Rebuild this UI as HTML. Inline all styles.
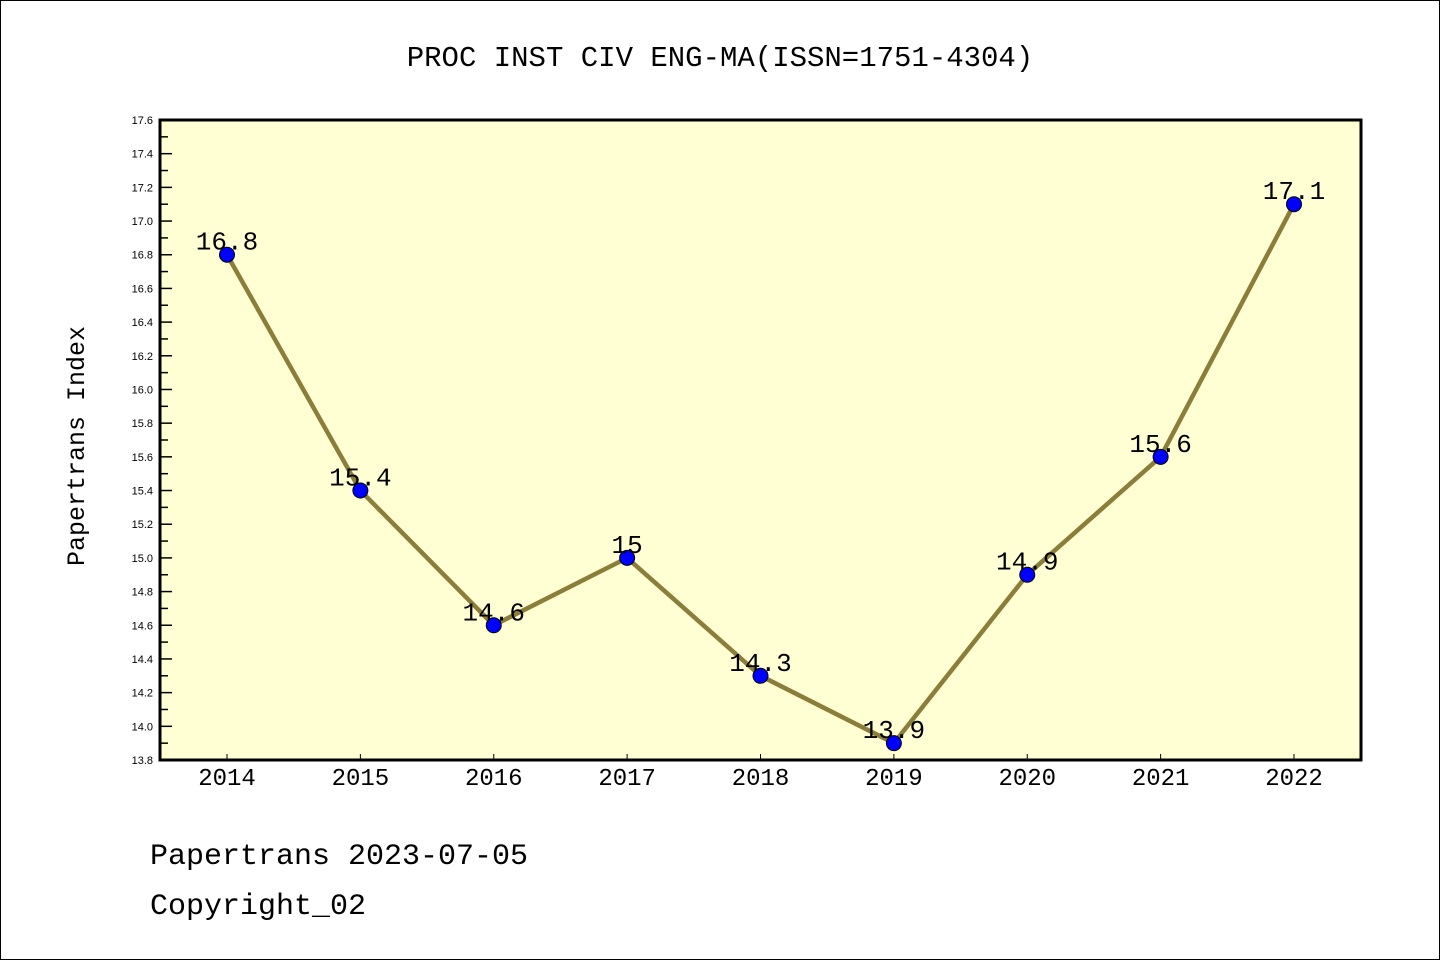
<!DOCTYPE html>
<html><head><meta charset="utf-8"><style>
html,body{margin:0;padding:0;background:#fff}
svg{display:block}
.sans{font-family:"Liberation Sans",sans-serif}
.mono{font-family:"Liberation Mono","WenQuanYi Zen Hei",monospace}
</style></head><body>
<svg id="chart" width="1440" height="960" viewBox="0 0 1440 960" xmlns="http://www.w3.org/2000/svg">
<rect x="0.5" y="0.5" width="1439" height="959" fill="#fff" stroke="#000" stroke-width="1"/>
<text class="mono" x="720" y="66" font-size="29" text-anchor="middle">PROC INST CIV ENG-MA(ISSN=1751-4304)</text>
<rect x="160" y="120" width="1201" height="640" fill="#ffffd3"/>
<g id="yticks"></g>
<g id="xticks"></g>
<g id="series"></g>
<rect x="160" y="120" width="1201" height="640" fill="none" stroke="#000" stroke-width="3"/>
<text class="mono" transform="translate(84,446) rotate(-90)" font-size="25" text-anchor="middle">Papertrans Index</text>
<text class="mono" x="150" y="864" font-size="30">Papertrans 2023-07-05</text>
<text class="mono" x="150" y="914" font-size="30">Copyright_02</text>
</svg>
<script>
const years = [2014,2015,2016,2017,2018,2019,2020,2021,2022];
const values = [16.8,15.4,14.6,15.0,14.3,13.9,14.9,15.6,17.1];
const valueLabels = ["16.8","15.4","14.6","15","14.3","13.9","14.9","15.6","17.1"];
const yTicks = [13.8,14.0,14.2,14.4,14.6,14.8,15.0,15.2,15.4,15.6,15.8,16.0,16.2,16.4,16.6,16.8,17.0,17.2,17.4,17.6];
const yMin = 13.8, yMax = 17.6;
const NS = "http://www.w3.org/2000/svg";
function yScale(v){ return 760 - (v - yMin) / (yMax - yMin) * 640; }
function xScale(i){ return 227 + i * (1294 - 227) / (years.length - 1); }
function mk(tag, attrs, parent){ const e = document.createElementNS(NS, tag); for (const k in attrs) e.setAttribute(k, attrs[k]); parent.appendChild(e); return e; }
const yg = document.getElementById('yticks');
yTicks.forEach((t, i) => {
  const y = yScale(t);
  const tk = mk('line', {x1:160, x2:172, y1:y, y2:y, stroke:'#000', 'stroke-width':1.5}, yg);
  
  
  const lb = mk('text', {x:153, y:y+4, 'font-size':11, 'text-anchor':'end', 'class':'sans'}, yg);
  
  
  lb.textContent = t.toFixed(1);
  if (i < yTicks.length - 1) {
    const ym = yScale(t + 0.1);
    const mn = mk('line', {x1:160, x2:168, y1:ym, y2:ym, stroke:'#000', 'stroke-width':1.5}, yg);
    
    
  }
});
const xg = document.getElementById('xticks');
years.forEach((yr, i) => {
  const x = xScale(i);
  const tk = mk('line', {x1:x, x2:x, y1:760, y2:754, stroke:'#000', 'stroke-width':1}, xg);
  
  
  const lb = mk('text', {x:x, y:785, 'font-size':24, 'text-anchor':'middle', 'class':'mono'}, xg);
  
  
  lb.textContent = yr;
});
const sg = document.getElementById('series');
const pts = values.map((v, i) => xScale(i) + ',' + yScale(v)).join(' ');
const line = mk('polyline', {points:pts, fill:'none', stroke:'#8b7d3a', 'stroke-width':4.5}, sg);


values.forEach((v, i) => {
  const c = mk('circle', {cx:xScale(i), cy:yScale(v), r:7.5, fill:'#0000ff', stroke:'#000', 'stroke-width':1}, sg);
  
  
});
values.forEach((v, i) => {
  const t = mk('text', {x:xScale(i), y:yScale(v) - 5, 'font-size':26, 'text-anchor':'middle', 'class':'mono'}, sg);
  
  
  t.textContent = valueLabels[i];
});
</script>
</body></html>
